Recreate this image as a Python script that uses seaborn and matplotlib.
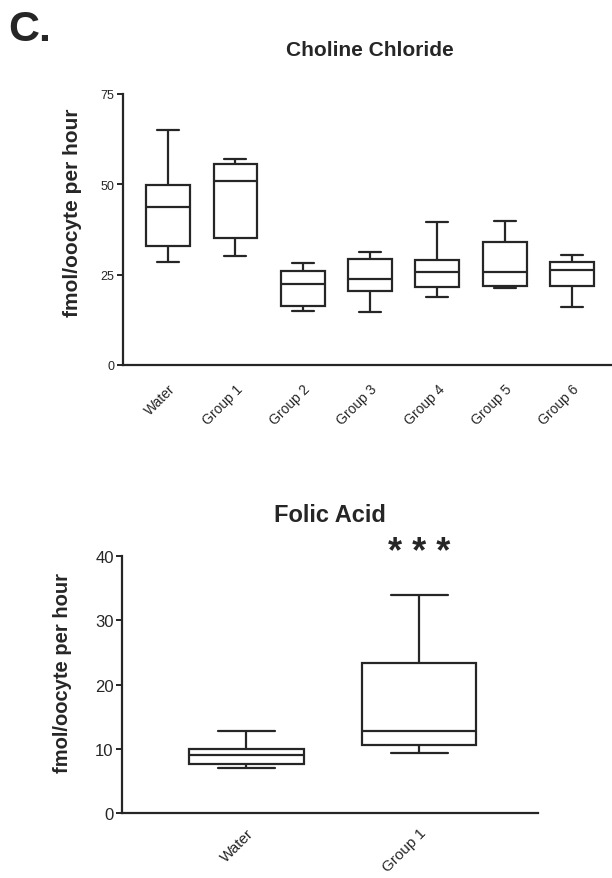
import numpy as np
import pandas as pd
import matplotlib
matplotlib.use("Agg")
import matplotlib.pyplot as plt
import seaborn as sns

# ---------------- data (min, Q1, median, Q3, max) ----------------
choline_groups = ["Water", "Group 1", "Group 2", "Group 3", "Group 4", "Group 5", "Group 6"]
choline_tick_labels = ["Water", "Group 1", "Group 2", "Group 3", "Group 4", "Group 5", "Group 6"]
choline_water = [28.5, 33.0, 43.8, 49.8, 65.1]
choline_g1 = [30.1, 35.2, 50.9, 55.5, 57.0]
choline_g2 = [14.9, 16.4, 22.5, 26.0, 28.2]
choline_g3 = [14.6, 20.6, 23.7, 29.3, 31.2]
choline_g4 = [18.7, 21.7, 25.7, 29.0, 39.5]
choline_g5 = [21.4, 21.9, 25.7, 34.0, 39.9]
choline_g6 = [16.1, 21.9, 26.4, 28.6, 30.5]

folic_groups = ["Water", "Group 1"]
folic_water = [7.05, 7.67, 9.07, 9.95, 12.8]
folic_g1 = [9.4, 10.6, 12.7, 23.4, 33.9]
folic_sig = ["", "* * *"]

choline_yticks = [0, 25, 50, 75]
folic_yticks = [0, 10, 20, 30, 40]

choline_values = [choline_water, choline_g1, choline_g2, choline_g3,
                  choline_g4, choline_g5, choline_g6]
folic_values = [folic_water, folic_g1]

df_ch = pd.DataFrame({
    "group": [g for g, vals in zip(choline_groups, choline_values) for _ in vals],
    "value": [v for vals in choline_values for v in vals],
})
df_fa = pd.DataFrame({
    "group": [g for g, vals in zip(folic_groups, folic_values) for _ in vals],
    "value": [v for vals in folic_values for v in vals],
})

# ---------------- style ----------------
sns.set_style("ticks")
plt.rcParams["font.family"] = ["Liberation Sans", "DejaVu Sans"]
ink = "#262626"
plt.rcParams["axes.edgecolor"] = ink
plt.rcParams["text.color"] = ink
plt.rcParams["xtick.color"] = ink
plt.rcParams["ytick.color"] = ink

W, H = 612, 879
fig = plt.figure(figsize=(W / 100, H / 100), dpi=100)

def px_axes(left, right, top, bottom):
    return fig.add_axes([left / W, 1 - bottom / H, (right - left) / W, (bottom - top) / H])

# ---------------- top: Choline Chloride ----------------
ax1 = px_axes(123, 611, 95, 366)
sns.boxplot(data=df_ch, x="group", y="value", ax=ax1, width=0.65,
            whis=(0, 100), showfliers=False, color="white", linecolor=ink,
            linewidth=1.6, order=choline_groups)
ax1.set_ylim(0, 75)
ax1.set_xlim(-0.67, 6.58)
ax1.set_yticks(choline_yticks)
ax1.set_yticklabels([str(t) for t in choline_yticks], fontsize=9)
ax1.set_xticks(range(len(choline_groups)))
ax1.set_xticklabels(choline_tick_labels, rotation=45, ha="right",
                    rotation_mode="anchor", fontsize=10)
ax1.tick_params(axis="x", length=0, pad=12)
ax1.tick_params(axis="y", length=4, width=1.4, pad=2)
ax1.set_xlabel("")
ax1.set_ylabel("fmol/oocyte per hour", fontsize=15, fontweight="bold")
ax1.yaxis.set_label_coords(-0.084, 0.566)
for s in ["top", "right"]:
    ax1.spines[s].set_visible(False)
for s in ["left", "bottom"]:
    ax1.spines[s].set_linewidth(1.6)

# ---------------- bottom: Folic Acid ----------------
ax2 = px_axes(122, 538, 557, 814)
sns.boxplot(data=df_fa, x="group", y="value", ax=ax2, width=0.66,
            whis=(0, 100), showfliers=False, color="white", linecolor=ink,
            linewidth=1.6, order=folic_groups)
ax2.set_ylim(0, 40)
ax2.set_xlim(-0.72, 1.686)
ax2.set_yticks(folic_yticks)
ax2.set_yticklabels([str(t) for t in folic_yticks], fontsize=12)
ax2.set_xticks(range(len(folic_groups)))
ax2.set_xticklabels(folic_groups, rotation=45, ha="right",
                    rotation_mode="anchor", fontsize=11)
ax2.tick_params(axis="x", length=0, pad=9)
ax2.tick_params(axis="y", length=4, width=1.4, pad=2)
ax2.set_xlabel("")
ax2.set_ylabel("fmol/oocyte per hour", fontsize=14.5, fontweight="bold")
ax2.yaxis.set_label_coords(-0.12, 0.548)
for s in ["top", "right"]:
    ax2.spines[s].set_visible(False)
for s in ["left", "bottom"]:
    ax2.spines[s].set_linewidth(1.6)

for i, lab in enumerate(folic_sig):
    if lab:
        ax2.text(i, 40.6, lab, ha="center", va="center", fontsize=26,
                 fontweight="bold", clip_on=False, color=ink)

# ---------------- titles ----------------
fig.text(370 / W, 1 - 50 / H, "Choline Chloride", ha="center", va="center",
         fontsize=15, fontweight="bold")
fig.text(330 / W, 1 - 515 / H, "Folic Acid", ha="center", va="center",
         fontsize=17, fontweight="bold")
fig.text(8 / W, 1 - 30 / H, "C.", ha="left", va="center",
         fontsize=31, fontweight="bold")

fig.savefig("out.png", dpi=100)
